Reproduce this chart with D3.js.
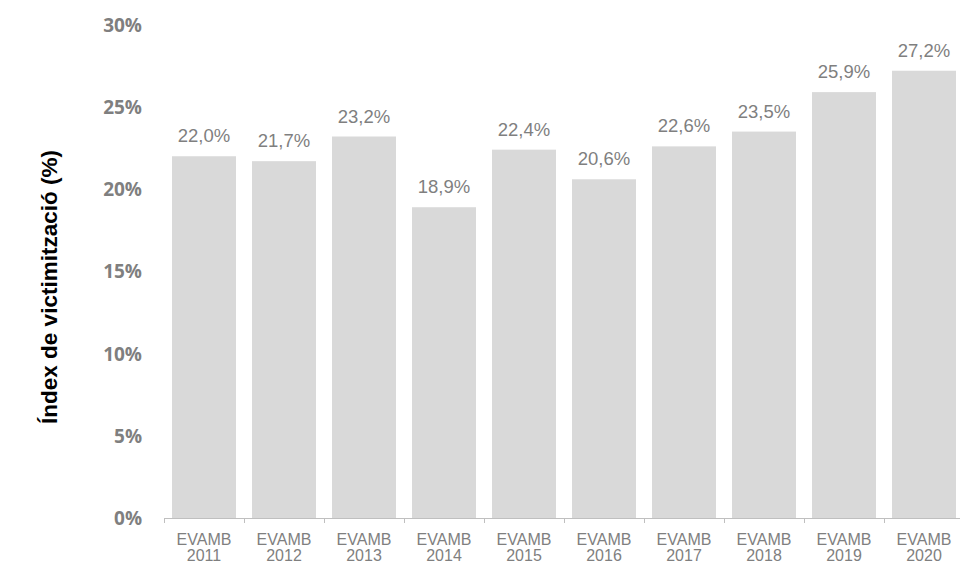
<!DOCTYPE html>
<html><head><meta charset="utf-8">
<script src="https://d3js.org/d3.v7.min.js"></script>
<style>body{margin:0;background:#fff}svg{display:block}</style>
</head><body>
<script>
const categories = ["EVAMB 2011","EVAMB 2012","EVAMB 2013","EVAMB 2014","EVAMB 2015","EVAMB 2016","EVAMB 2017","EVAMB 2018","EVAMB 2019","EVAMB 2020"];
const values = [22.0,21.7,23.2,18.9,22.4,20.6,22.6,23.5,25.9,27.2];
const yTicks = [0,5,10,15,20,25,30];
const yTitle = "Índex de victimització (%)";

const W=960,H=563;
const m={left:164,right:-4,top:24.7,bottom:45};
const svg=d3.select("body").append("svg").attr("width",W).attr("height",H);
const x=d3.scaleBand().domain(categories).range([m.left,W-m.right]).paddingInner(0.2).paddingOuter(0.1);
const y=d3.scaleLinear().domain([0,30]).range([H-m.bottom,m.top]);
const fmt=v=>d3.format(".1f")(v).replace(".",",")+"%";

svg.selectAll("rect.bar").data(values).join("rect").attr("class","bar")
 .attr("x",(d,i)=>x(categories[i])).attr("width",x.bandwidth())
 .attr("y",d=>y(d)).attr("height",d=>y(0)-y(d)).attr("fill","#d9d9d9");

svg.selectAll("text.val").data(values).join("text").attr("class","val")
 .attr("x",(d,i)=>x(categories[i])+x.bandwidth()/2).attr("y",d=>y(d)-14)
 .attr("text-anchor","middle").attr("font-family","Liberation Sans, Arial, sans-serif")
 .attr("font-size",18.5).attr("fill","#7f7f7f").text(fmt);

const y0=y(0);
const step=x.step();
svg.append("line").attr("x1",m.left).attr("x2",W).attr("y1",y0+0.5).attr("y2",y0+0.5).attr("stroke","#bfbfbf");
svg.selectAll("line.tk").data(categories.map((c,i)=>x(c)-(step-x.bandwidth())/2)).join("line").attr("class","tk")
 .attr("x1",d=>Math.round(d)+0.5).attr("x2",d=>Math.round(d)+0.5).attr("y1",y0).attr("y2",y0+5).attr("stroke","#bfbfbf");

const xl=svg.selectAll("text.xl").data(categories).join("text").attr("class","xl")
 .attr("text-anchor","middle").attr("font-family","Liberation Sans, Arial, sans-serif")
 .attr("font-size",16).attr("fill","#7f7f7f");
xl.each(function(c){
  const t=d3.select(this);const parts=c.split(" ");const cx=x(c)+x.bandwidth()/2;
  parts.forEach((p,k)=>t.append("tspan").attr("x",cx).attr("y",y0+27+k*16).text(p));
});

svg.selectAll("text.yt").data(yTicks).join("text").attr("class","yt")
 .attr("x",142).attr("y",d=>y(d)+7).attr("text-anchor","end")
 .attr("font-family","Open Sans, sans-serif").attr("font-weight",700)
 .attr("font-size",19).attr("fill","#7f7f7f").text(d=>d+"%");

svg.append("text").attr("transform","translate(57,287) rotate(-90)")
 .attr("text-anchor","middle").attr("font-family","Liberation Sans, Arial, sans-serif")
 .attr("font-weight",700).attr("font-size",22.5).attr("fill","#000").text(yTitle);
</script>
</body></html>
